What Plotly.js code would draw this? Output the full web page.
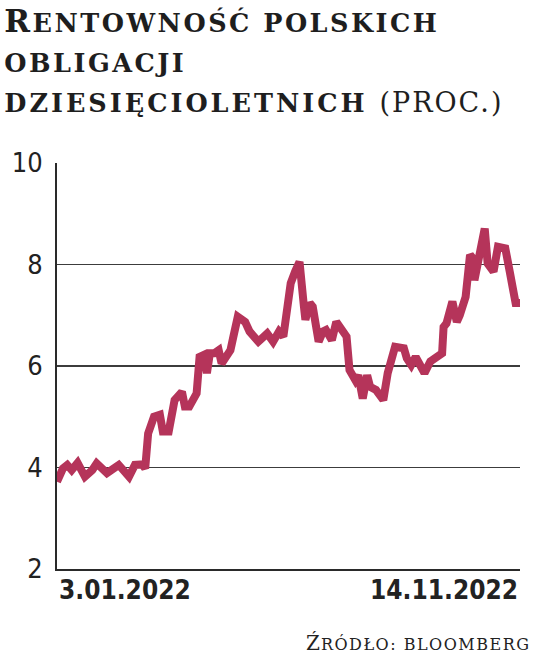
<!DOCTYPE html>
<html>
<head>
<meta charset="utf-8">
<script src="https://cdn.plot.ly/plotly-3.0.1.min.js"></script>
<style>
  html, body { margin: 0; padding: 0; background: #ffffff; }
  #chart { width: 536px; height: 659px; }
</style>
</head>
<body>
<div id="chart"></div>
<script>
// Rentowność polskich obligacji dziesięcioletnich (proc.)
const dates = [
  '2022-01-03','2022-01-05','2022-01-07','2022-01-10','2022-01-13','2022-01-17','2022-01-22','2022-01-27','2022-01-30',
  '2022-02-06','2022-02-14','2022-02-21','2022-02-25','2022-03-02','2022-03-04','2022-03-06','2022-03-10','2022-03-14',
  '2022-03-16','2022-03-20','2022-03-24','2022-03-29','2022-03-31','2022-04-03','2022-04-08','2022-04-10','2022-04-13',
  '2022-04-15','2022-04-17','2022-04-20','2022-04-23','2022-04-25','2022-05-01','2022-05-03','2022-05-06','2022-05-11',
  '2022-05-14','2022-05-20','2022-05-26','2022-05-30','2022-06-03','2022-06-06','2022-06-09','2022-06-11','2022-06-14',
  '2022-06-17','2022-06-20','2022-06-21','2022-06-24','2022-06-26','2022-06-30','2022-07-03','2022-07-05','2022-07-09',
  '2022-07-12','2022-07-16','2022-07-19','2022-07-21','2022-07-25','2022-07-27','2022-07-30','2022-08-02','2022-08-04',
  '2022-08-08','2022-08-13','2022-08-16','2022-08-21','2022-08-27','2022-08-29','2022-09-01','2022-09-04','2022-09-07',
  '2022-09-10','2022-09-14','2022-09-18','2022-09-22','2022-09-23','2022-09-25','2022-09-29','2022-10-02','2022-10-04',
  '2022-10-08','2022-10-11','2022-10-13','2022-10-14','2022-10-18','2022-10-21','2022-10-23','2022-10-27','2022-10-30',
  '2022-11-04','2022-11-07','2022-11-09','2022-11-11','2022-11-14'
];
const yields = [
  3.72, 3.85, 3.98, 4.05, 3.95, 4.09, 3.82, 3.95, 4.08,
  3.89, 4.05, 3.82, 4.05, 4.06, 3.98, 4.67, 5.00, 5.04,
  4.71, 4.71, 5.33, 5.49, 5.20, 5.20, 5.46, 6.18, 6.22,
  5.86, 6.25, 6.25, 6.31, 6.05, 6.31, 6.58, 6.97, 6.87,
  6.68, 6.48, 6.64, 6.48, 6.68, 6.58, 7.10, 7.63, 7.86,
  8.05, 7.17, 6.91, 7.24, 7.17, 6.48, 6.68, 6.71, 6.51,
  6.87, 6.71, 6.58, 5.92, 5.72, 5.82, 5.36, 5.82, 5.59,
  5.53, 5.33, 5.86, 6.38, 6.35, 6.15, 6.02, 6.18, 6.02,
  5.86, 6.09, 6.15, 6.25, 6.77, 6.84, 7.27, 6.87, 7.00,
  7.36, 8.19, 8.12, 7.69, 8.22, 8.71, 8.02, 7.86, 8.35,
  8.32, 7.86, 7.63, 7.24, 7.24
];
const yTicks = [2, 4, 6, 8, 10];
const xTickDates = ['2022-01-03', '2022-11-14'];
const xTickLabels = ['3.01.2022', '14.11.2022'];

const titleText =
  '<b><span style="font-size:31px;letter-spacing:2.5px">R</span>' +
  '<span style="font-size:25.5px;letter-spacing:2.5px">ENTOWNOŚĆ POLSKICH</span></b><br>' +
  '<b><span style="font-size:25.5px;letter-spacing:2.5px">OBLIGACJI</span></b><br>' +
  '<b><span style="font-size:25.5px;letter-spacing:3px">DZIESIĘCIOLETNICH </span></b>' +
  '<span style="font-size:27px;letter-spacing:2px">(PROC.)</span>';

const trace = {
  type: 'scatter',
  mode: 'lines',
  x: dates,
  y: yields,
  line: { color: '#b5345a', width: 8, shape: 'linear' },
  hoverinfo: 'skip'
};

const tickFamily = '"DejaVu Sans Condensed", "Liberation Sans Narrow", sans-serif';

const annotations = xTickDates.map((d, i) => ({
  x: d, xref: 'x', y: 0, yref: 'paper',
  xanchor: i === 0 ? 'left' : 'right', yanchor: 'top',
  yshift: -4,
  text: '<b>' + xTickLabels[i] + '</b>',
  showarrow: false,
  font: { family: tickFamily, size: 26, color: '#222222' }
}));
annotations.push({
  x: 1, xref: 'paper', xshift: 12, y: 0, yref: 'paper', yshift: -60,
  xanchor: 'right', yanchor: 'top',
  text: '<span style="font-size:20px;letter-spacing:1px">Ź</span><span style="font-size:16px;letter-spacing:1.5px">RÓDŁO: BLOOMBERG</span>',
  showarrow: false,
  font: { family: '"DejaVu Serif", serif', size: 16, color: '#222222' }
});

const layout = {
  width: 536, height: 659,
  margin: { l: 57, r: 16, t: 163, b: 90 },
  paper_bgcolor: '#ffffff', plot_bgcolor: '#ffffff',
  showlegend: false,
  title: {
    text: titleText,
    font: { family: '"DejaVu Serif", serif', size: 31, color: '#1e1e1e' },
    xref: 'container', x: 0.008, xanchor: 'left',
    yref: 'container', y: 0.952, yanchor: 'top'
  },
  xaxis: {
    type: 'date',
    range: [dates[0], dates[dates.length - 1]],
    showgrid: false, zeroline: false,
    showline: true, linecolor: '#2a2a2a', linewidth: 2,
    showticklabels: false, ticks: ''
  },
  yaxis: {
    range: [2, 10],
    tickvals: yTicks,
    ticktext: yTicks.map(String),
    showgrid: true, gridcolor: '#3c3c3c', gridwidth: 1.5,
    zeroline: false,
    showline: true, linecolor: '#2a2a2a', linewidth: 2,
    ticks: '', ticklabelstandoff: 7,
    tickfont: { family: tickFamily, size: 27, color: '#222222' }
  },
  annotations: annotations
};

Plotly.newPlot('chart', [trace], layout, { displayModeBar: false, staticPlot: true });
</script>
</body>
</html>
